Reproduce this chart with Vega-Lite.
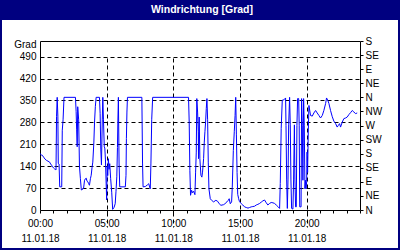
{
  "$schema": "https://vega.github.io/schema/vega-lite/v6.json",
  "width": 396,
  "height": 228,
  "autosize": {"type": "none"},
  "padding": {"left": 2, "right": 2, "top": 20, "bottom": 2},
  "background": "#000080",
  "title": {"text": "Windrichtung [Grad]", "color": "white", "font": "Liberation Sans", "fontSize": 10.5, "fontWeight": "bold", "anchor": "middle", "frame": "group", "offset": 5, "dx": 2},
  "config": {
    "view": {"fill": "white", "stroke": null},
    "axis": {"labelFont": "Liberation Sans", "labelFontSize": 10, "labelColor": "black", "domainColor": "black", "tickColor": "black", "gridColor": "black", "gridDash": [4, 3], "gridWidth": 1, "title": null}
  },
  "data": {"values": [
    {"h": 0, "v": 180}, {"h": 0.1, "v": 176}, {"h": 0.17, "v": 175}, {"h": 0.27, "v": 169}, {"h": 0.37, "v": 163},
    {"h": 0.47, "v": 159}, {"h": 0.6, "v": 156}, {"h": 0.72, "v": 153}, {"h": 0.8, "v": 147}, {"h": 0.87, "v": 143},
    {"h": 0.95, "v": 138}, {"h": 1.02, "v": 134}, {"h": 1.1, "v": 131}, {"h": 1.17, "v": 129}, {"h": 1.2, "v": 128},
    {"h": 1.24, "v": 298}, {"h": 1.29, "v": 360}, {"h": 1.34, "v": 300}, {"h": 1.37, "v": 149}, {"h": 1.43, "v": 147},
    {"h": 1.48, "v": 74}, {"h": 1.63, "v": 74}, {"h": 1.67, "v": 255}, {"h": 1.73, "v": 288}, {"h": 1.8, "v": 360},
    {"h": 2.66, "v": 360}, {"h": 2.71, "v": 314}, {"h": 2.75, "v": 256}, {"h": 2.79, "v": 202}, {"h": 2.83, "v": 330},
    {"h": 2.9, "v": 288}, {"h": 2.96, "v": 140}, {"h": 3.03, "v": 100}, {"h": 3.1, "v": 64}, {"h": 3.2, "v": 66},
    {"h": 3.27, "v": 70}, {"h": 3.34, "v": 95}, {"h": 3.41, "v": 100}, {"h": 3.46, "v": 102}, {"h": 3.53, "v": 92},
    {"h": 3.59, "v": 90}, {"h": 3.65, "v": 84}, {"h": 3.71, "v": 79}, {"h": 3.78, "v": 100}, {"h": 3.84, "v": 111},
    {"h": 3.9, "v": 135}, {"h": 3.96, "v": 153}, {"h": 4.04, "v": 217}, {"h": 4.09, "v": 281}, {"h": 4.15, "v": 330},
    {"h": 4.21, "v": 360}, {"h": 4.46, "v": 360}, {"h": 4.51, "v": 309}, {"h": 4.56, "v": 192}, {"h": 4.61, "v": 144},
    {"h": 4.67, "v": 288}, {"h": 4.71, "v": 360}, {"h": 4.76, "v": 288}, {"h": 4.82, "v": 202}, {"h": 4.86, "v": 198},
    {"h": 4.91, "v": 160}, {"h": 4.96, "v": 86}, {"h": 5.0, "v": 32}, {"h": 5.04, "v": 140}, {"h": 5.08, "v": 110},
    {"h": 5.13, "v": 164}, {"h": 5.18, "v": 130}, {"h": 5.23, "v": 148}, {"h": 5.3, "v": 100}, {"h": 5.38, "v": 57},
    {"h": 5.45, "v": 2}, {"h": 5.55, "v": 8}, {"h": 5.64, "v": 20}, {"h": 5.7, "v": 60}, {"h": 5.76, "v": 106},
    {"h": 5.81, "v": 200}, {"h": 5.84, "v": 281}, {"h": 5.88, "v": 360}, {"h": 5.93, "v": 150}, {"h": 5.98, "v": 74},
    {"h": 6.4, "v": 74}, {"h": 6.45, "v": 111}, {"h": 6.48, "v": 228}, {"h": 6.52, "v": 313}, {"h": 6.56, "v": 360},
    {"h": 7.64, "v": 360}, {"h": 7.69, "v": 150}, {"h": 7.73, "v": 74}, {"h": 7.9, "v": 75}, {"h": 8.05, "v": 80},
    {"h": 8.15, "v": 84}, {"h": 8.27, "v": 68}, {"h": 8.32, "v": 150}, {"h": 8.38, "v": 290}, {"h": 8.45, "v": 360},
    {"h": 11.14, "v": 360}, {"h": 11.19, "v": 281}, {"h": 11.24, "v": 127}, {"h": 11.29, "v": 47}, {"h": 11.37, "v": 63},
    {"h": 11.44, "v": 55}, {"h": 11.52, "v": 60}, {"h": 11.62, "v": 49}, {"h": 11.67, "v": 121}, {"h": 11.72, "v": 185},
    {"h": 11.76, "v": 356}, {"h": 11.82, "v": 313}, {"h": 11.87, "v": 250}, {"h": 11.89, "v": 164}, {"h": 11.94, "v": 297},
    {"h": 11.99, "v": 164}, {"h": 12.07, "v": 111}, {"h": 12.14, "v": 105}, {"h": 12.19, "v": 121}, {"h": 12.27, "v": 164},
    {"h": 12.32, "v": 217}, {"h": 12.37, "v": 250}, {"h": 12.42, "v": 281}, {"h": 12.47, "v": 324}, {"h": 12.52, "v": 356},
    {"h": 12.57, "v": 290}, {"h": 12.62, "v": 153}, {"h": 12.67, "v": 68}, {"h": 12.77, "v": 36}, {"h": 12.87, "v": 31},
    {"h": 13.02, "v": 26}, {"h": 13.19, "v": 31}, {"h": 13.32, "v": 28}, {"h": 13.44, "v": 20}, {"h": 13.57, "v": 15},
    {"h": 13.77, "v": 17}, {"h": 13.87, "v": 20}, {"h": 14.02, "v": 26}, {"h": 14.12, "v": 31}, {"h": 14.19, "v": 36},
    {"h": 14.27, "v": 20}, {"h": 14.37, "v": 26}, {"h": 14.42, "v": 73}, {"h": 14.5, "v": 190}, {"h": 14.57, "v": 250},
    {"h": 14.63, "v": 302}, {"h": 14.68, "v": 360}, {"h": 14.73, "v": 240}, {"h": 14.78, "v": 120}, {"h": 14.83, "v": 50},
    {"h": 14.9, "v": 36}, {"h": 14.96, "v": 27}, {"h": 15.1, "v": 20}, {"h": 15.21, "v": 16}, {"h": 15.34, "v": 10},
    {"h": 15.47, "v": 8}, {"h": 15.6, "v": 6}, {"h": 15.72, "v": 8}, {"h": 15.84, "v": 10}, {"h": 15.96, "v": 11},
    {"h": 16.09, "v": 12}, {"h": 16.22, "v": 16}, {"h": 16.34, "v": 18}, {"h": 16.47, "v": 21}, {"h": 16.59, "v": 25},
    {"h": 16.71, "v": 29}, {"h": 16.84, "v": 32}, {"h": 16.97, "v": 23}, {"h": 17.09, "v": 16}, {"h": 17.22, "v": 21},
    {"h": 17.34, "v": 24}, {"h": 17.47, "v": 23}, {"h": 17.59, "v": 21}, {"h": 17.72, "v": 16}, {"h": 17.84, "v": 11},
    {"h": 17.97, "v": 5}, {"h": 18.02, "v": 85}, {"h": 18.09, "v": 261}, {"h": 18.17, "v": 351}, {"h": 18.29, "v": 352},
    {"h": 18.42, "v": 358}, {"h": 18.45, "v": 270}, {"h": 18.5, "v": 96}, {"h": 18.55, "v": 5}, {"h": 18.6, "v": 96},
    {"h": 18.65, "v": 272}, {"h": 18.72, "v": 360}, {"h": 18.77, "v": 272}, {"h": 18.82, "v": 96}, {"h": 18.87, "v": 5},
    {"h": 18.97, "v": 3}, {"h": 19.02, "v": 96}, {"h": 19.08, "v": 272}, {"h": 19.12, "v": 96}, {"h": 19.17, "v": 10},
    {"h": 19.22, "v": 10}, {"h": 19.27, "v": 270}, {"h": 19.32, "v": 356}, {"h": 19.4, "v": 356}, {"h": 19.44, "v": 271},
    {"h": 19.48, "v": 10}, {"h": 19.58, "v": 10}, {"h": 19.62, "v": 356}, {"h": 19.67, "v": 271}, {"h": 19.72, "v": 95},
    {"h": 19.77, "v": 356}, {"h": 19.82, "v": 271}, {"h": 19.87, "v": 68}, {"h": 19.92, "v": 95}, {"h": 19.95, "v": 68},
    {"h": 20.0, "v": 90}, {"h": 20.03, "v": 185}, {"h": 20.07, "v": 120}, {"h": 20.12, "v": 249}, {"h": 20.17, "v": 334},
    {"h": 20.29, "v": 302}, {"h": 20.42, "v": 300}, {"h": 20.54, "v": 310}, {"h": 20.67, "v": 318}, {"h": 20.79, "v": 310},
    {"h": 20.92, "v": 302}, {"h": 21.04, "v": 294}, {"h": 21.17, "v": 302}, {"h": 21.29, "v": 318}, {"h": 21.42, "v": 340},
    {"h": 21.49, "v": 358}, {"h": 21.59, "v": 350}, {"h": 21.67, "v": 340}, {"h": 21.79, "v": 318}, {"h": 21.92, "v": 298},
    {"h": 22.04, "v": 284}, {"h": 22.17, "v": 276}, {"h": 22.29, "v": 265}, {"h": 22.37, "v": 270}, {"h": 22.47, "v": 276},
    {"h": 22.54, "v": 265}, {"h": 22.67, "v": 281}, {"h": 22.79, "v": 292}, {"h": 22.92, "v": 294}, {"h": 23.04, "v": 297},
    {"h": 23.17, "v": 305}, {"h": 23.29, "v": 311}, {"h": 23.42, "v": 318}, {"h": 23.54, "v": 313}, {"h": 23.67, "v": 308},
    {"h": 23.79, "v": 310}
  ]},
  "layer": [
    {
      "mark": {"type": "line", "color": "#0000FF", "strokeWidth": 1},
      "encoding": {
        "x": {
          "field": "h", "type": "quantitative",
          "scale": {"domain": [0, 24], "range": [38, 358], "nice": false, "zero": false},
          "axis": {
            "orient": "bottom", "offset": -38,
            "values": [0,1,2,3,4,5,6,7,8,9,10,11,12,13,14,15,16,17,18,19,20,21,22,23,24],
            "tickSize": 3, "labelPadding": 5, "labelFlush": false, "labelOverlap": false, "labelBound": false,
            "labelLineHeight": 15, "labelBaseline": "top", "labelAlign": "center",
            "labelExpr": "datum.value % 5 == 0 && datum.value < 24 ? [(datum.value < 10 ? '0' : '') + datum.value + ':00', '11.01.18'] : ''",
            "grid": true,
            "gridOpacity": {"condition": {"test": "datum.value % 5 == 0 && datum.value > 0 && datum.value < 24", "value": 1}, "value": 0}
          }
        },
        "y": {
          "field": "v", "type": "quantitative",
          "scale": {"domain": [0, 540], "range": [190, 21], "nice": false, "zero": true},
          "axis": {
            "orient": "left", "offset": -38,
            "values": [0, 70, 140, 210, 280, 350, 420, 490, 540],
            "ticks": false, "labelPadding": 4, "labelOverlap": false,
            "labelExpr": "datum.value == 540 ? 'Grad' : datum.label",
            "labelOffset": {"condition": {"test": "datum.value == 540", "value": 3}, "value": 0},
            "grid": true,
            "gridOpacity": {"condition": {"test": "datum.value > 0 && datum.value < 540", "value": 1}, "value": 0}
          }
        }
      }
    },
    {
      "mark": {"type": "line", "strokeOpacity": 0},
      "encoding": {
        "x": {
          "field": "h", "type": "quantitative",
          "axis": {"orient": "top", "offset": -21, "ticks": false, "labels": false, "grid": false}
        },
        "y": {
          "field": "v", "type": "quantitative",
          "axis": {
            "orient": "right", "offset": -38,
            "values": [0, 45, 90, 135, 180, 225, 270, 315, 360, 405, 450, 495, 540],
            "tickSize": 3, "labelPadding": 2, "labelOverlap": false, "grid": false,
            "labelExpr": "['N','NE','E','SE','S','SW','W','NW','N','NE','E','SE','S'][round(datum.value / 45)]"
          }
        }
      }
    }
  ],
  "resolve": {"axis": {"x": "independent", "y": "independent"}}
}
